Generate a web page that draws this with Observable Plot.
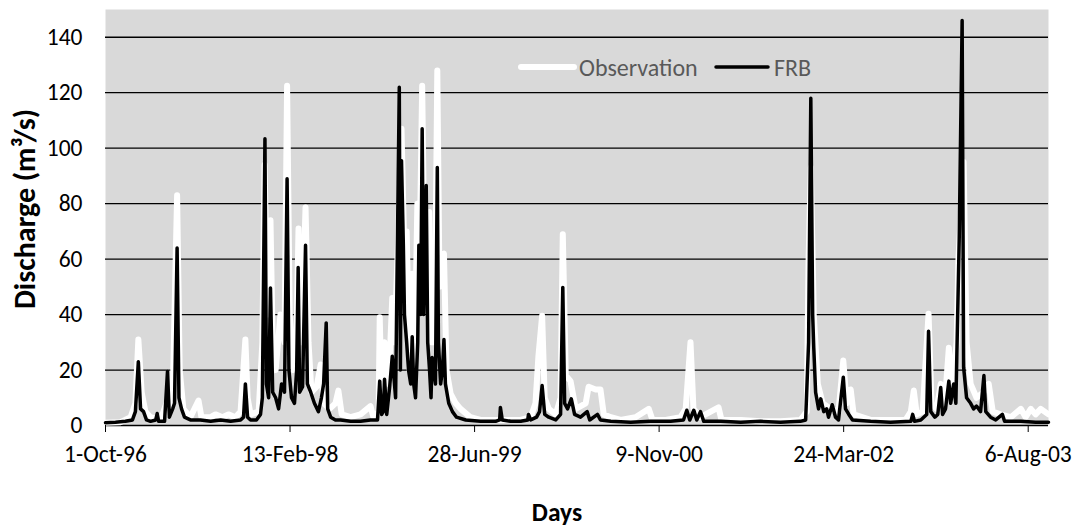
<!DOCTYPE html>
<html>
<head>
<meta charset="utf-8">
<script src="https://cdn.jsdelivr.net/npm/d3@7"></script>
<script src="https://cdn.jsdelivr.net/npm/@observablehq/plot@0.6"></script>
<style>
  html, body { margin: 0; padding: 0; background: #fff; }
  #chart { width: 1075px; height: 527px; }
</style>
</head>
<body>
<div id="chart"></div>
<script>
// Days counted from 1-Oct-1996
const startDate = "1996-10-01";
const tickDates = ["1996-10-01", "1998-02-13", "1999-06-28", "2000-11-09", "2002-03-24", "2003-08-06"];
const yTicks = [0, 20, 40, 60, 80, 100, 120, 140];
const seriesNames = ["Observation", "FRB"];
const xTitle = "Days";
const yTitle = "Discharge (m³/s)";

const obsDay = [0,41,68,81,89,98,108,122,149,165,171,182,194,201,211,230,252,260,285,298,317,333,352,366,379,385,393,415,425,431,439,447,453,461,474,485,492,499,509,518,523,531,542,550,558,572,583,591,607,623,631,640,664,691,718,726,740,743,748,756,767,777,783,791,802,810,816,824,831,837,845,851,858,864,870,877,883,892,899,905,917,924,935,949,962,989,1016,1070,1125,1152,1165,1173,1183,1190,1201,1220,1233,1239,1247,1260,1274,1301,1309,1328,1341,1350,1369,1396,1436,1472,1482,1518,1558,1572,1585,1593,1612,1661,1669,1721,1775,1829,1883,1900,1905,1911,1919,1930,1943,1965,1986,1999,2008,2019,2027,2073,2127,2168,2182,2190,2198,2214,2230,2238,2252,2263,2274,2285,2295,2306,2311,2325,2333,2344,2360,2379,2393,2404,2425,2453,2480,2493,2507,2520,2534,2555];
const obsVal = [1.0,1.2,3,8,31,12,5,3,2,8,4,10,83,20,6,3,9,3,3,4,3,4,3,5,31,10,4,5,30,94,40,74,30,20,40,30,122.5,40,20,35,71,30,78.6,30,12,14,22,8,6,8,12.6,4,3,4,7,3,5,39,10,30,15,46,30,60,107,60,70,20,54.7,20,80,60,122.5,60,50,77,30,30,128,50,62,20,11.5,8,6,3,2,2,2,3,8,25,39.6,10,6,4,10,69,18,16,6,8,14,13,13,4,3,2,3,6,2,2,3,6,30,6,3,6.5,2,2,1.5,1.5,2,5,60,93,40,15,8,6,5,23.4,8,13,4,2,2,2,5,12.6,4,5,40.3,8,6,15,8,28,12,30,60,95,30,15,10,12,15,5,4,3,6,3,6,4,6,4];

const frbDay = [0,27,54,73,81,89,95,103,111,122,136,140,144,160,168,173,182,187,194,199,206,214,230,257,285,312,339,366,374,379,385,393,409,420,425,432,436,442,447,453,461,469,477,485,492,497,504,512,518,522,526,534,542,547,556,566,577,585,591,598,602,610,623,637,664,691,718,737,743,748,753,756,762,770,777,780,786,796,799,802,807,810,816,821,827,831,835,840,846,849,854,858,862,869,873,878,882,885,889,894,899,902,908,913,917,921,930,940,951,976,1016,1057,1068,1070,1075,1098,1125,1144,1146,1152,1168,1176,1183,1190,1201,1220,1233,1239,1244,1252,1262,1271,1287,1305,1312,1333,1341,1369,1423,1477,1531,1566,1575,1583,1594,1602,1612,1621,1667,1721,1775,1829,1883,1897,1905,1911,1916,1919,1924,1932,1938,1946,1954,1959,1969,1978,1986,1999,2005,2014,2024,2073,2127,2182,2187,2192,2209,2225,2230,2236,2247,2255,2263,2268,2276,2285,2290,2298,2304,2313,2321,2325,2333,2344,2352,2360,2371,2380,2385,2398,2412,2430,2436,2480,2520,2555];
const frbVal = [1.0,1.2,1.5,2,5,23,6,5,2,1.5,2,4.3,1.5,1.5,19.5,3,6,8,64,10,6,3,2,2,1.5,2,1.5,2,3,15,3,2,2,4,10,103.4,15,10,49.6,12,10,6,15,12,89,20,10,8,20,57,12,14,65,15,12,8,5,10,15,37,6,3,2,2,1.5,1.5,2,2,16,4,5,16.7,4,14,25,20,10,122,20,95.5,65,40,30,20,15,32,15,10,30,65,40,107,40,86.5,30,20,10,24.5,20,15,93,30,15,20,31,15,8,5,3,2,1.5,1.5,2,6.5,2,1.5,1.5,2,4,2,3,5,14.4,4,3,2,4,49.8,8,6,9.6,4,3,5,2,4,2,1.5,1.2,1.5,1.5,2,5.5,2,5.5,2,5,1.5,1.5,1.2,1.5,1.2,1.5,2,30,118,40,28,12,6,9.6,5,6,3,7.5,3,2,17.4,6,4,2,1.5,1.2,1.5,4,1.5,2,4,34,5,3,4,13.7,4,6,16,8,15,8,66.6,146,21,10,8,6,7,5,18,5,3,2,4,1.5,1.5,1.2,1.2];

const DAY = 864e5;
const t0 = new Date(startDate + "T00:00:00Z").getTime();
const toDate = d => new Date(t0 + d * DAY);
const obs = obsDay.map((d, i) => ({date: toDate(d), value: obsVal[i]}));
const frb = frbDay.map((d, i) => ({date: toDate(d), value: frbVal[i]}));
const ticks = tickDates.map(s => new Date(s + "T00:00:00Z"));
const fmt = d3.utcFormat("%-d-%b-%y");
const FONT = "Carlito, Calibri, Lato, 'Open Sans', sans-serif";

const chart = Plot.plot({
  width: 1075,
  height: 527,
  marginLeft: 105,
  marginRight: 27,
  marginTop: 9,
  marginBottom: 102,
  style: {background: "#fff", fontFamily: FONT, fontSize: "23.5px", color: "#000", overflow: "visible"},
  x: {type: "utc", domain: [toDate(0), toDate(2555)], label: null},
  y: {domain: [0, 150], label: null},
  marks: [
    Plot.frame({fill: "#d9d9d9", stroke: null}),
    Plot.ruleY(yTicks, {stroke: "#000", strokeWidth: 1.3}),
    Plot.lineY(obs, {x: "date", y: "value", stroke: "#ffffff", strokeWidth: 6, strokeLinejoin: "round", strokeLinecap: "round"}),
    Plot.lineY(frb, {x: "date", y: "value", stroke: "#000000", strokeWidth: 3.5, strokeLinejoin: "round", strokeLinecap: "round"}),
    Plot.axisX({ticks: ticks, tickFormat: fmt, tickSize: 7, tickPadding: 13, stroke: "#000", fill: "#000", fontSize: 23.5, label: null}),
    Plot.axisY({ticks: yTicks, tickSize: 0, tickPadding: 23, fill: "#000", fontSize: 23.5, label: null})
  ]
});
document.getElementById("chart").appendChild(chart);

const svg = d3.select(chart);
svg.append("text")
  .attr("transform", "translate(24,209) rotate(-90)")
  .attr("text-anchor", "middle")
  .attr("dominant-baseline", "central")
  .style("font-family", FONT).style("font-weight", "bold").style("font-size", "30px")
  .attr("fill", "#000")
  .text(yTitle);
svg.append("text")
  .attr("x", 557).attr("y", 521)
  .attr("text-anchor", "middle")
  .style("font-family", FONT).style("font-weight", "bold").style("font-size", "25.5px")
  .attr("fill", "#000")
  .text(xTitle);

// legend
const lg = svg.append("g").attr("text-anchor", "start");
lg.append("line").attr("x1", 521).attr("x2", 574).attr("y1", 67).attr("y2", 67)
  .attr("stroke", "#fff").attr("stroke-width", 6).attr("stroke-linecap", "round");
lg.append("text").attr("x", 579).attr("y", 67).attr("dominant-baseline", "central").attr("text-anchor", "start")
  .style("font-family", FONT).style("font-size", "24px").attr("fill", "#595959").text(seriesNames[0]);
lg.append("line").attr("x1", 716).attr("x2", 768).attr("y1", 67).attr("y2", 67)
  .attr("stroke", "#000").attr("stroke-width", 3.5).attr("stroke-linecap", "round");
lg.append("text").attr("x", 774).attr("y", 67).attr("dominant-baseline", "central").attr("text-anchor", "start")
  .style("font-family", FONT).style("font-size", "24px").attr("fill", "#595959").text(seriesNames[1]);
</script>
</body>
</html>
